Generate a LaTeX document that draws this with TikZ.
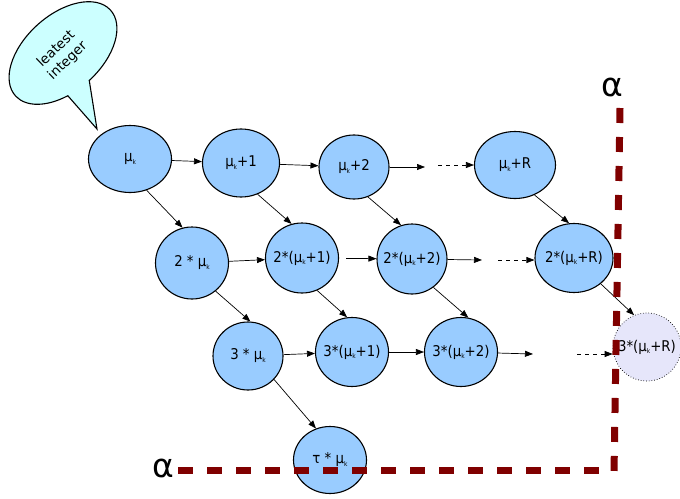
\documentclass[tikz,border=0pt]{standalone}
\usepackage{fontspec}
\setmainfont{DejaVu Sans}
\newfontfamily\nodefont[FakeStretch=0.9]{DejaVu Sans}
\usetikzlibrary{arrows.meta,shapes.geometric}
\definecolor{nodeblue}{RGB}{153,204,255}
\definecolor{lav}{RGB}{230,230,250}
\definecolor{callcyan}{RGB}{204,255,255}
\definecolor{dred}{RGB}{128,0,0}
\newcommand\muk{μ\raisebox{-2.5pt}{\fontsize{6.5}{6.5}\selectfont k}}
\newcommand\lab[1]{\makebox[0pt][c]{#1}}
\begin{document}
\begin{tikzpicture}[x=1pt,y=-1pt,
  nd/.style={ellipse, draw=black, line width=1.1pt, fill=nodeblue, inner sep=0pt,
     font=\nodefont\fontsize{14.8}{15}\selectfont},
  arr/.style={-{Triangle[length=8pt,width=6pt]}, line width=0.7pt},
  darr/.style={arr, dash pattern=on 4pt off 4pt},
  redline/.style={draw=dred, line width=7pt, dash pattern=on 15pt off 14pt},
  alph/.style={font=\fontsize{33}{33}\selectfont, inner sep=0pt}
  ]
\useasboundingbox (0,0) rectangle (680,498);

% callout
\begin{scope}[shift={(63,53)}, rotate=42, y=1pt]
  \draw[fill=callcyan, line width=1.1pt, line join=miter]
    (271:64 and 38) arc[start angle=271, end angle=607, x radius=64, y radius=38]
    -- (-25.6,-79.2) -- cycle;
\end{scope}
\node[rotate=44, align=center, inner sep=0pt, font=\fontsize{13.5}{16.5}\selectfont] (calltext) at (62,55) {leatest\\integer};

% nodes
\node[nd, minimum width=83pt, minimum height=67pt] (A0) at (130,159) {\lab{\muk}};
\node[nd, minimum width=77pt, minimum height=68pt] (A1) at (241,163) {\lab{\muk+1}};
\node[nd, minimum width=70pt, minimum height=64pt] (A2) at (354,167) {\lab{\muk+2}};
\node[nd, minimum width=81pt, minimum height=67pt] (AR) at (515,165) {\lab{\muk+R}};

\node[nd, minimum width=73pt, minimum height=72pt] (B0) at (192,263) {\lab{2 * \muk}};
\node[nd, minimum width=73pt, minimum height=70pt] (B1) at (302,258) {\lab{2*(\muk+1)}};
\node[nd, minimum width=70pt, minimum height=70pt] (B2) at (412,259) {\lab{2*(\muk+2)}};
\node[nd, minimum width=78pt, minimum height=69pt] (BR) at (574,258) {\lab{2*(\muk+R)}};

\node[nd, minimum width=70pt, minimum height=68pt] (C0) at (248,356) {\lab{3 * \muk}};
\node[nd, minimum width=73pt, minimum height=69pt] (C1) at (352,352) {\lab{3*(\muk+1)}};
\node[nd, minimum width=73pt, minimum height=69pt] (C2) at (461,352) {\lab{3*(\muk+2)}};
\node[nd, minimum width=68pt, minimum height=68pt, fill=lav, line width=0.7pt, dotted] (CR) at (647,347) {\lab{3*(\muk+R)}};

\node[nd, minimum width=73pt, minimum height=67pt] (T) at (330,460) {\lab{τ * \muk}};

% horizontal arrows
\coordinate (a2e) at (425,167);
\coordinate (a2d) at (438,165);
\coordinate (b2e) at (482,260);
\coordinate (b2d) at (498,260);
\coordinate (c2e) at (533,354);
\coordinate (c2d) at (577,354);
\draw[arr] (A0) -- (A1);
\draw[arr] (A1) -- (A2);
\draw[arr] (A2) -- (a2e);
\draw[darr] (a2d) -- (a2d -| AR.west);
\draw[arr] (B0) -- (B1);
\draw[arr, shorten <=7pt] (B1) -- (B2);
\draw[arr] (B2) -- (b2e);
\draw[darr] (b2d) -- (b2d -| BR.west);
\draw[arr] (C0) -- (C1);
\draw[arr] (C1) -- (C2);
\draw[arr] (C2) -- (c2e);
\draw[darr] (c2d) -- (c2d -| CR.west);

% diagonal arrows
\draw[arr] (A0.-62) -- (B0.105);
\draw[arr] (A1.-62) -- (B1.107);
\draw[arr] (A2.-65) -- (B2.108);
\draw[arr] (AR.-57) -- (BR.98);
\draw[arr] (B0.-50) -- (C0.86);
\draw[arr] (B1.-65) -- (C1.98);
\draw[arr] (B2.-53) -- (C2.78);
\draw[arr] (BR.-44) -- (CR.112);
\draw[arr] (C0.-42) -- (T.114);

% alpha boundary
\draw[redline] (178,470) -- (600,470);
\draw[redline] (620,108) -- (614,472);
\node[alph] (alphaT) at (612,87) {α};
\node[alph] (alphaB) at (163,468) {α};
\end{tikzpicture}
\end{document}
